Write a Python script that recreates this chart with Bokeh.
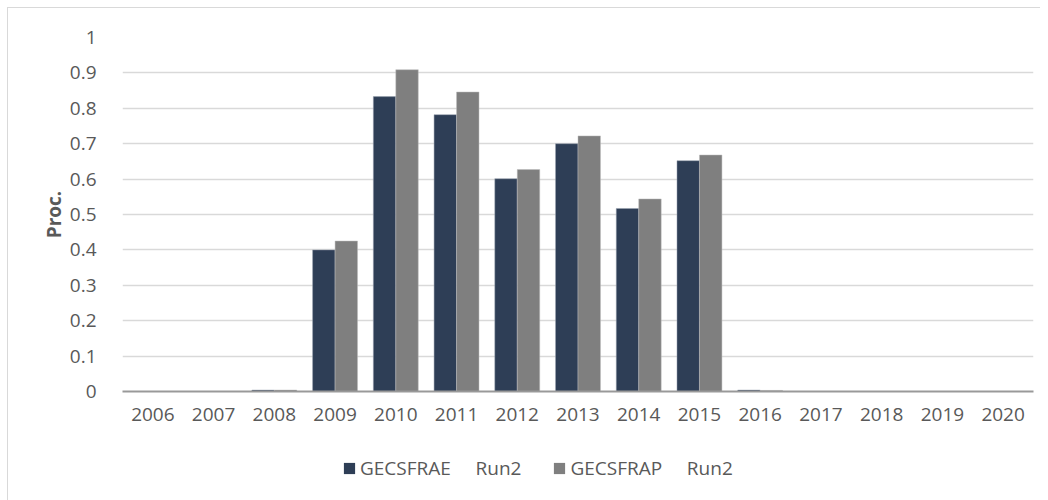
from bokeh.plotting import figure
from bokeh.models import FactorRange, Range1d, Legend, LegendItem, ColumnDataSource, FixedTicker
from bokeh.layouts import column
from bokeh.transform import dodge
from bokeh.embed import file_html
from bokeh.resources import INLINE

years = ["2006", "2007", "2008", "2009", "2010", "2011", "2012", "2013",
         "2014", "2015", "2016", "2017", "2018", "2019", "2020"]
gecsfrae = [0.0, 0.0, 0.004, 0.400, 0.833, 0.782, 0.601, 0.700,
            0.517, 0.652, 0.004, 0.0, 0.0, 0.0, 0.0]
gecsfrap = [0.0, 0.0, 0.004, 0.425, 0.909, 0.846, 0.627, 0.722,
            0.544, 0.668, 0.003, 0.0, 0.0, 0.0, 0.0]
y_ticks = [0, 0.1, 0.2, 0.3, 0.4, 0.5, 0.6, 0.7, 0.8, 0.9, 1]
series_names = ["GECSFRAE\u00a0\u00a0\u00a0\u00a0\u00a0Run2",
                "GECSFRAP\u00a0\u00a0\u00a0\u00a0\u00a0Run2"]
colors = ["#2E3E56", "#7F7F7F"]
edges = ["#9aa3b0", "#bdbdbd"]

src = ColumnDataSource(dict(years=years, a=gecsfrae, b=gecsfrap))

FONT = "Open Sans"
FS = "19px"
TXT = "#595959"

p = figure(x_range=FactorRange(*years), y_range=Range1d(0, 1.0),
           width=1032, height=437, output_backend="svg", toolbar_location=None,
           min_border_left=114, min_border_right=7, min_border_top=29,
           min_border_bottom=54)
p.outline_line_color = None
p.background_fill_color = "white"
p.border_fill_color = "white"

r1 = p.vbar(x=dodge("years", -0.185, range=p.x_range), top="a", width=0.37,
            source=src, fill_color=colors[0], line_color=edges[0], line_width=0.5)
r2 = p.vbar(x=dodge("years", 0.185, range=p.x_range), top="b", width=0.37,
            source=src, fill_color=colors[1], line_color=edges[1], line_width=0.5)

p.xgrid.grid_line_color = None
p.ygrid.grid_line_color = "#d9d9d9"
p.ygrid.grid_line_width = 1.5
p.yaxis.ticker = FixedTicker(ticks=y_ticks)
p.yaxis.major_label_overrides = {0: "0", 1: "1"}

for ax in (p.xaxis, p.yaxis):
    ax.major_tick_line_color = None
    ax.minor_tick_line_color = None
    ax.major_label_text_font = FONT
    ax.major_label_text_font_size = FS
    ax.major_label_text_color = TXT

p.yaxis.axis_line_color = None
p.yaxis.major_label_standoff = 20
p.yaxis.axis_label = "Proc."
p.yaxis.axis_label_text_font = FONT
p.yaxis.axis_label_text_font_size = FS
p.yaxis.axis_label_text_font_style = "bold"
p.yaxis.axis_label_text_color = TXT
p.yaxis.axis_label_standoff = 0

p.xaxis.axis_line_color = "#999999"
p.xaxis.axis_line_width = 2
p.xaxis.major_label_standoff = 10

# legend strip below the chart (its frame is aligned with the chart frame by the column)
lg = figure(x_range=FactorRange(*years), y_range=Range1d(0, 1), width=1032, height=55,
            output_backend="svg", toolbar_location=None,
            min_border_left=0, min_border_right=0, min_border_top=0, min_border_bottom=0)
lg.axis.visible = False
lg.grid.visible = False
lg.outline_line_color = None
lg.background_fill_color = "white"
lg.border_fill_color = "white"
d1 = lg.vbar(x="years", top="a", width=0.37, source=src, fill_color=colors[0],
             line_color=None, visible=False)
d2 = lg.vbar(x="years", top="b", width=0.37, source=src, fill_color=colors[1],
             line_color=None, visible=False)

legend = Legend(items=[LegendItem(label=series_names[0], renderers=[d1]),
                       LegendItem(label=series_names[1], renderers=[d2])],
                orientation="horizontal", location=(220, 19))
legend.label_text_font = FONT
legend.label_text_font_size = FS
legend.label_text_color = TXT
legend.glyph_width = 14
legend.glyph_height = 14
legend.label_standoff = 4
legend.spacing = 31
legend.padding = 0
legend.margin = 0
legend.border_line_color = None
legend.background_fill_alpha = 0
legend.inactive_fill_alpha = 0
lg.add_layout(legend, "center")

page = column(p, lg, spacing=0)
page.styles = {"margin-left": "7px", "margin-top": "7px",
               "border-left": "1px solid #d9d9d9", "border-top": "1px solid #d9d9d9"}

open("out.html", "w").write(file_html(page, INLINE))
